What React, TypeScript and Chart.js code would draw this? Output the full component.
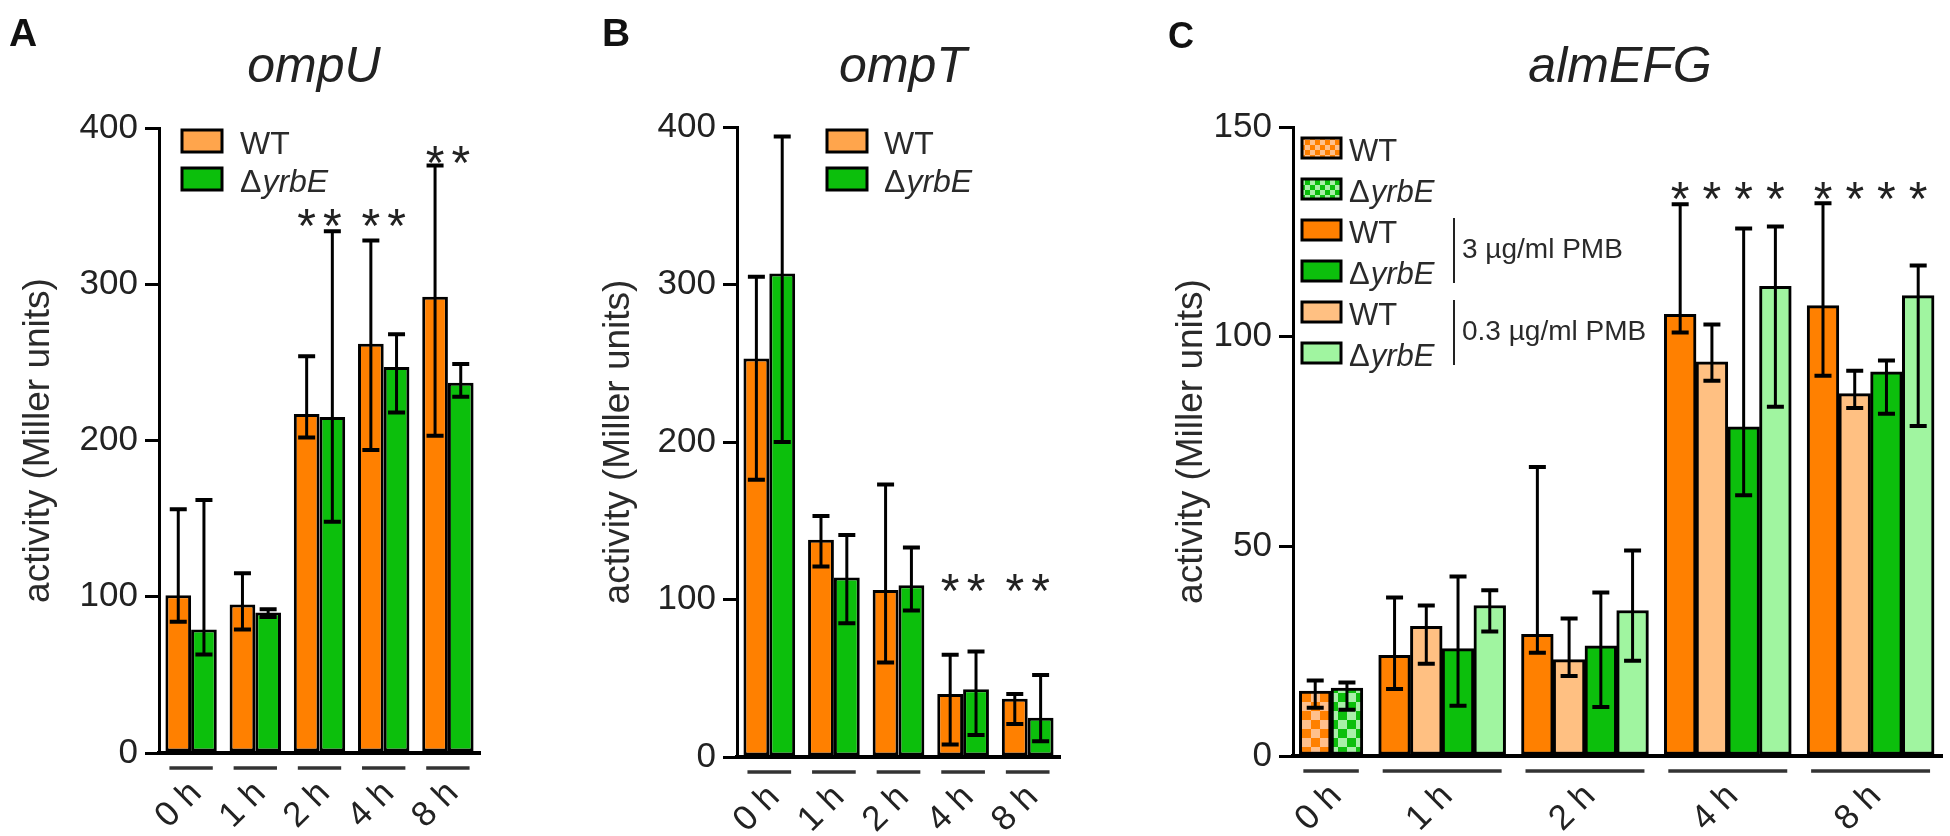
import React, { useEffect, useRef } from 'react';
import { Chart, registerables } from 'chart.js';

Chart.register(...registerables);

const FONT = "'Liberation Sans', Arial, Helvetica, sans-serif";
Chart.defaults.font.family = FONT;

// ---------- shared categories ----------
const timeLabels = ['0 h', '1 h', '2 h', '4 h', '8 h'];

// ---------- A: ompU ----------
const ompU_WT = [101, 95, 217, 262, 292];
const ompU_WT_hi = [156, 115, 254, 328, 376];
const ompU_WT_lo = [84, 79, 202, 194, 203];
const ompU_yrbE = [79, 90, 215, 247, 237];
const ompU_yrbE_hi = [162, 92, 334, 268, 249];
const ompU_yrbE_lo = [63, 87, 148, 218, 228];
const ompU_stars = [null, null, 345, 345, 385];
const ompU_yTicks = { max: 400, step: 100 };

// ---------- B: ompT ----------
const ompT_WT = [253, 138, 106, 40, 37];
const ompT_WT_hi = [305, 153, 173, 65, 40];
const ompT_WT_lo = [176, 121, 60, 8, 21];
const ompT_yrbE = [307, 114, 109, 43, 25];
const ompT_yrbE_hi = [394, 141, 133, 67, 52];
const ompT_yrbE_lo = [200, 85, 93, 14, 10];
const ompT_stars = [null, null, null, 113, 113];
const ompT_yTicks = { max: 400, step: 100 };

// ---------- C: almEFG ----------
const alm_WT_0 = [15.5, null, null, null, null];
const alm_WT_0_hi = [18, null, null, null, null];
const alm_WT_0_lo = [11.5, null, null, null, null];
const alm_yrbE_0 = [16.2, null, null, null, null];
const alm_yrbE_0_hi = [17.5, null, null, null, null];
const alm_yrbE_0_lo = [11, null, null, null, null];
const alm_WT_3 = [null, 24, 29, 105.3, 107.4];
const alm_WT_3_hi = [null, 37.8, 68.9, 131.6, 131.8];
const alm_WT_3_lo = [null, 16, 24.6, 101, 90.7];
const alm_WT_03 = [null, 30.9, 23, 94, 86.4];
const alm_WT_03_hi = [null, 35.9, 32.8, 102.9, 91.9];
const alm_WT_03_lo = [null, 22, 19.1, 89.5, 83];
const alm_yrbE_3 = [null, 25.6, 26.3, 78.5, 91.6];
const alm_yrbE_3_hi = [null, 42.8, 39, 125.8, 94.3];
const alm_yrbE_3_lo = [null, 12, 11.7, 62.2, 81.6];
const alm_yrbE_03 = [null, 35.9, 34.7, 112, 109.8];
const alm_yrbE_03_hi = [null, 39.5, 49, 126.3, 117];
const alm_yrbE_03_lo = [null, 29.7, 22.7, 83.3, 78.7];
const alm_stars = [null, null, null, 135.6, 135.6];
const alm_yTicks = { max: 150, step: 50 };

// ---------- styles ----------
const ORANGE = '#ff8000';
const GREEN = '#0cbf0c';
const LIGHT_ORANGE = '#ffc082';
const LIGHT_GREEN = '#a0f5a0';
const LEGEND_ORANGE = '#ffa54c';
const TEXT = '#222222';

function checker(c1: string, c2: string, cell: number) {
  const cv = document.createElement('canvas');
  cv.width = cell * 2;
  cv.height = cell * 2;
  const g = cv.getContext('2d')!;
  g.fillStyle = c1;
  g.fillRect(0, 0, cell * 2, cell * 2);
  g.fillStyle = c2;
  g.fillRect(0, 0, cell, cell);
  g.fillRect(cell, cell, cell, cell);
  return g.createPattern(cv, 'repeat')!;
}

function drawLabel(ctx: CanvasRenderingContext2D, text: string, x: number, y: number, size: number) {
  ctx.textAlign = 'left';
  ctx.textBaseline = 'alphabetic';
  if (text.startsWith('Δ')) {
    ctx.font = `${size}px ${FONT}`;
    ctx.fillText('Δ', x, y);
    const w = ctx.measureText('Δ').width;
    ctx.font = `italic ${size}px ${FONT}`;
    ctx.fillText(text.slice(1), x + w + 1, y);
  } else {
    ctx.font = `${size}px ${FONT}`;
    ctx.fillText(text, x, y);
  }
}

type Deco = {
  offsetX: number;
  letter: { text: string; x: number; y: number; size: number };
  title: { text: string; x: number; y: number; size: number };
  yTitle: { text: string; x: number; size: number };
  legend: { order: number[]; boxX: number; boxW: number; boxH: number; top: number; step: number; textX: number; size: number; textDy: number };
  brackets?: { from: number; to: number; x: number; text: string; size: number }[];
  stars: (number | null)[];
  starSize: number;
};

function makeDeco(d: Deco) {
  const X = (px: number) => px - d.offsetX;
  const groupsOf = (chart: any) => {
    const groups = timeLabels.map(() => ({ l: Infinity, r: -Infinity, xs: [] as number[] }));
    chart.data.datasets.forEach((ds: any, di: number) => {
      chart.getDatasetMeta(di).data.forEach((el: any, j: number) => {
        const c = ds.cats ? ds.cats[j] : j;
        const g = groups[c];
        g.l = Math.min(g.l, el.x - el.width / 2);
        g.r = Math.max(g.r, el.x + el.width / 2);
        g.xs.push(el.x);
      });
    });
    return groups;
  };
  return {
    id: 'deco',
    afterDatasetsDraw(chart: any) {
      const ctx: CanvasRenderingContext2D = chart.ctx;
      const ys = chart.scales.y;
      ctx.save();
      ctx.strokeStyle = '#000';
      chart.data.datasets.forEach((ds: any, di: number) => {
        chart.getDatasetMeta(di).data.forEach((el: any, j: number) => {
          const hi = ds.errHi[j];
          const lo = ds.errLo[j];
          if (hi == null || lo == null) return;
          const yh = ys.getPixelForValue(hi);
          const yl = ys.getPixelForValue(lo);
          ctx.lineWidth = 3;
          ctx.beginPath();
          ctx.moveTo(el.x, yh);
          ctx.lineTo(el.x, yl);
          ctx.stroke();
          ctx.lineWidth = 4;
          ctx.beginPath();
          ctx.moveTo(el.x - 8.5, yh);
          ctx.lineTo(el.x + 8.5, yh);
          ctx.moveTo(el.x - 8.5, yl);
          ctx.lineTo(el.x + 8.5, yl);
          ctx.stroke();
        });
      });
      ctx.restore();
    },
    afterDraw(chart: any) {
      const ctx: CanvasRenderingContext2D = chart.ctx;
      const area = chart.chartArea;
      const ys = chart.scales.y;
      const groups = groupsOf(chart);
      ctx.save();
      // group underlines
      ctx.strokeStyle = '#333';
      ctx.lineWidth = 3.5;
      groups.forEach((g) => {
        if (!isFinite(g.l)) return;
        ctx.beginPath();
        ctx.moveTo(g.l + 4, area.bottom + 15);
        ctx.lineTo(g.r - 4, area.bottom + 15);
        ctx.stroke();
      });
      // stars
      ctx.fillStyle = TEXT;
      ctx.font = `${d.starSize}px ${FONT}`;
      ctx.textAlign = 'center';
      ctx.textBaseline = 'alphabetic';
      d.stars.forEach((v, c) => {
        if (v == null) return;
        const yc = ys.getPixelForValue(v);
        groups[c].xs.forEach((x) => ctx.fillText('*', x, yc + 0.575 * d.starSize));
      });
      // panel letter
      ctx.textAlign = 'left';
      ctx.font = `bold ${d.letter.size}px ${FONT}`;
      ctx.fillStyle = '#111';
      ctx.fillText(d.letter.text, X(d.letter.x), d.letter.y);
      // title
      ctx.textAlign = 'center';
      ctx.font = `italic ${d.title.size}px ${FONT}`;
      ctx.fillStyle = TEXT;
      ctx.fillText(d.title.text, X(d.title.x), d.title.y);
      // y title
      ctx.save();
      ctx.translate(X(d.yTitle.x), (area.top + area.bottom) / 2);
      ctx.rotate(-Math.PI / 2);
      ctx.textAlign = 'center';
      ctx.textBaseline = 'middle';
      ctx.font = `${d.yTitle.size}px ${FONT}`;
      ctx.fillStyle = '#2a2a2a';
      ctx.fillText(d.yTitle.text, 0, 0);
      ctx.restore();
      // legend
      const L = d.legend;
      L.order.forEach((di, row) => {
        const ds = chart.data.datasets[di];
        const top = L.top + row * L.step;
        ctx.fillStyle = ds.legendFill || ds.backgroundColor;
        ctx.fillRect(X(L.boxX), top, L.boxW, L.boxH);
        ctx.lineWidth = 3;
        ctx.strokeStyle = '#000';
        ctx.strokeRect(X(L.boxX), top, L.boxW, L.boxH);
        ctx.fillStyle = '#2a2a2a';
        drawLabel(ctx, ds.label, X(L.textX), top + L.textDy, L.size);
      });
      (d.brackets || []).forEach((b) => {
        const y0 = L.top + b.from * L.step - 2;
        const y1 = L.top + b.to * L.step + L.boxH + 2;
        ctx.strokeStyle = '#222';
        ctx.lineWidth = 2;
        ctx.beginPath();
        ctx.moveTo(X(b.x), y0);
        ctx.lineTo(X(b.x), y1);
        ctx.stroke();
        ctx.fillStyle = '#2a2a2a';
        ctx.font = `${b.size}px ${FONT}`;
        ctx.textAlign = 'left';
        ctx.textBaseline = 'middle';
        ctx.fillText(b.text, X(b.x) + 8, (y0 + y1) / 2);
      });
      ctx.restore();
    },
  };
}

function yScale(max: number, step: number, width: number) {
  return {
    min: 0,
    max,
    ticks: { stepSize: step, font: { size: 35, family: FONT }, color: TEXT, padding: 7 },
    grid: { drawOnChartArea: false, drawTicks: true, tickLength: 14, lineWidth: 3, color: '#000' },
    border: { display: true, width: 3, color: '#000' },
    afterFit: (s: any) => {
      s.width = width;
    },
  };
}

function xTicks() {
  return {
    autoSkip: false,
    minRotation: 45,
    maxRotation: 45,
    font: { size: 35, family: FONT },
    color: TEXT,
    padding: 20,
    labelOffset: 5,
  };
}

function baseOptions(padTop: number, padRight: number, x: any, y: any) {
  return {
    responsive: false,
    animation: false as const,
    events: [],
    layout: { padding: { top: padTop, right: padRight, bottom: 0, left: 0 } },
    plugins: { legend: { display: false }, tooltip: { enabled: false }, title: { display: false } },
    scales: { x, y },
  };
}

const barStyle = { borderColor: '#000', borderWidth: 3, borderSkipped: false };

function categoryX(height: number) {
  return {
    type: 'category',
    offset: true,
    grid: { display: false, drawTicks: false },
    border: { display: true, width: 4, color: '#000', z: 1 },
    ticks: xTicks(),
    afterFit: (s: any) => {
      s.height = height;
    },
  };
}

function slotLayout(series: (number | null)[][]) {
  const LEAD = 0.2, GAP = 0.5, TRAIL = 0.25;
  let pos = LEAD;
  const xs = series.map(() => timeLabels.map(() => null as number | null));
  const centers: number[] = [];
  timeLabels.forEach((_, ci) => {
    if (ci > 0) pos += GAP;
    const start = pos;
    series.forEach((s, si) => {
      if (s[ci] != null) {
        xs[si][ci] = pos + 0.5;
        pos += 1;
      }
    });
    centers.push((start + pos) / 2);
  });
  return { xs, centers, end: pos + TRAIL };
}

function configA(): any {
  return {
    type: 'bar',
    data: {
      labels: timeLabels,
      datasets: [
        { label: 'WT', data: ompU_WT, errHi: ompU_WT_hi, errLo: ompU_WT_lo, backgroundColor: ORANGE, legendFill: LEGEND_ORANGE, categoryPercentage: 0.8, barPercentage: 1, ...barStyle },
        { label: 'ΔyrbE', data: ompU_yrbE, errHi: ompU_yrbE_hi, errLo: ompU_yrbE_lo, backgroundColor: GREEN, legendFill: GREEN, categoryPercentage: 0.8, barPercentage: 1, ...barStyle },
      ],
    },
    options: baseOptions(128, 100, categoryX(83), yScale(ompU_yTicks.max, ompU_yTicks.step, 159)),
    plugins: [
      makeDeco({
        offsetX: 0,
        letter: { text: 'A', x: 9, y: 46, size: 39 },
        title: { text: 'ompU', x: 314, y: 82, size: 50 },
        yTitle: { text: 'activity (Miller units)', x: 39, size: 37 },
        legend: { order: [0, 1], boxX: 182, boxW: 40, boxH: 22, top: 130, step: 38, textX: 240, size: 32, textDy: 24 },
        stars: ompU_stars,
        starSize: 48,
      }),
    ],
  };
}

function configB(): any {
  return {
    type: 'bar',
    data: {
      labels: timeLabels,
      datasets: [
        { label: 'WT', data: ompT_WT, errHi: ompT_WT_hi, errLo: ompT_WT_lo, backgroundColor: ORANGE, legendFill: LEGEND_ORANGE, categoryPercentage: 0.8, barPercentage: 1, ...barStyle },
        { label: 'ΔyrbE', data: ompT_yrbE, errHi: ompT_yrbE_hi, errLo: ompT_yrbE_lo, backgroundColor: GREEN, legendFill: GREEN, categoryPercentage: 0.8, barPercentage: 1, ...barStyle },
      ],
    },
    options: baseOptions(127, 80, categoryX(79), yScale(ompT_yTicks.max, ompT_yTicks.step, 157)),
    plugins: [
      makeDeco({
        offsetX: 580,
        letter: { text: 'B', x: 602, y: 46, size: 39 },
        title: { text: 'ompT', x: 903, y: 82, size: 50 },
        yTitle: { text: 'activity (Miller units)', x: 619, size: 37 },
        legend: { order: [0, 1], boxX: 827, boxW: 40, boxH: 22, top: 130, step: 38, textX: 884, size: 32, textDy: 24 },
        stars: ompT_stars,
        starSize: 48,
      }),
    ],
  };
}

function configC(): any {
  const series = [alm_WT_0, alm_yrbE_0, alm_WT_3, alm_WT_03, alm_yrbE_3, alm_yrbE_03];
  const his = [alm_WT_0_hi, alm_yrbE_0_hi, alm_WT_3_hi, alm_WT_03_hi, alm_yrbE_3_hi, alm_yrbE_03_hi];
  const los = [alm_WT_0_lo, alm_yrbE_0_lo, alm_WT_3_lo, alm_WT_03_lo, alm_yrbE_3_lo, alm_yrbE_03_lo];
  const labels = ['WT', 'ΔyrbE', 'WT', 'WT', 'ΔyrbE', 'ΔyrbE'];
  const fills: any[] = [
    checker(ORANGE, '#ffc08c', 9),
    checker(GREEN, '#a8f0a8', 9),
    ORANGE,
    LIGHT_ORANGE,
    GREEN,
    LIGHT_GREEN,
  ];
  const legendFills: any[] = [checker(ORANGE, '#ffc08c', 5), checker(GREEN, '#a8f0a8', 5), ORANGE, LIGHT_ORANGE, GREEN, LIGHT_GREEN];
  const lay = slotLayout(series);
  const datasets = series.map((vals, si) => {
    const pts: any[] = [], cats: number[] = [], hi: any[] = [], lo: any[] = [];
    vals.forEach((v, ci) => {
      if (v != null) {
        pts.push({ x: lay.xs[si][ci], y: v });
        cats.push(ci);
        hi.push(his[si][ci]);
        lo.push(los[si][ci]);
      }
    });
    return {
      label: labels[si],
      data: pts,
      cats,
      errHi: hi,
      errLo: lo,
      backgroundColor: fills[si],
      legendFill: legendFills[si],
      grouped: false,
      categoryPercentage: 1,
      barPercentage: 1,
      ...barStyle,
    };
  });
  const x = {
    type: 'linear',
    offset: false,
    min: 0,
    max: lay.end,
    bounds: 'data',
    grid: { display: false, drawTicks: false },
    border: { display: true, width: 4, color: '#000', z: 1 },
    afterBuildTicks: (s: any) => {
      s.ticks = lay.centers.map((v) => ({ value: v }));
    },
    ticks: { ...xTicks(), callback: (_v: any, i: number) => timeLabels[i] },
    afterFit: (s: any) => {
      s.height = 80;
    },
  };
  return {
    type: 'bar',
    data: { datasets },
    options: baseOptions(127, 8, x, yScale(alm_yTicks.max, alm_yTicks.step, 153)),
    plugins: [
      makeDeco({
        offsetX: 1140,
        letter: { text: 'C', x: 1168, y: 48, size: 36 },
        title: { text: 'almEFG', x: 1620, y: 82, size: 50 },
        yTitle: { text: 'activity (Miller units)', x: 1192, size: 37 },
        legend: { order: [0, 1, 2, 4, 3, 5], boxX: 1302, boxW: 39, boxH: 20, top: 138, step: 41, textX: 1349, size: 31, textDy: 23 },
        brackets: [
          { from: 2, to: 3, x: 1454, text: '3 µg/ml PMB', size: 28 },
          { from: 4, to: 5, x: 1454, text: '0.3 µg/ml PMB', size: 28 },
        ],
        stars: alm_stars,
        starSize: 48,
      }),
    ],
  };
}

export default function App() {
  const refA = useRef<HTMLCanvasElement>(null);
  const refB = useRef<HTMLCanvasElement>(null);
  const refC = useRef<HTMLCanvasElement>(null);

  useEffect(() => {
    document.body.style.margin = '0';
    const charts = [
      new Chart(refA.current!, configA()),
      new Chart(refB.current!, configB()),
      new Chart(refC.current!, configC()),
    ];
    return () => charts.forEach((c) => c.destroy());
  }, []);

  const cv = (left: number, width: number) => ({
    position: 'absolute' as const,
    left,
    top: 0,
    width,
    height: 836,
  });

  return (
    <div style={{ position: 'absolute', left: 0, top: 0, width: 1950, height: 836, background: '#fff', overflow: 'hidden' }}>
      <canvas ref={refA} width={580} height={836} style={cv(0, 580)} />
      <canvas ref={refB} width={560} height={836} style={cv(580, 560)} />
      <canvas ref={refC} width={810} height={836} style={cv(1140, 810)} />
    </div>
  );
}
